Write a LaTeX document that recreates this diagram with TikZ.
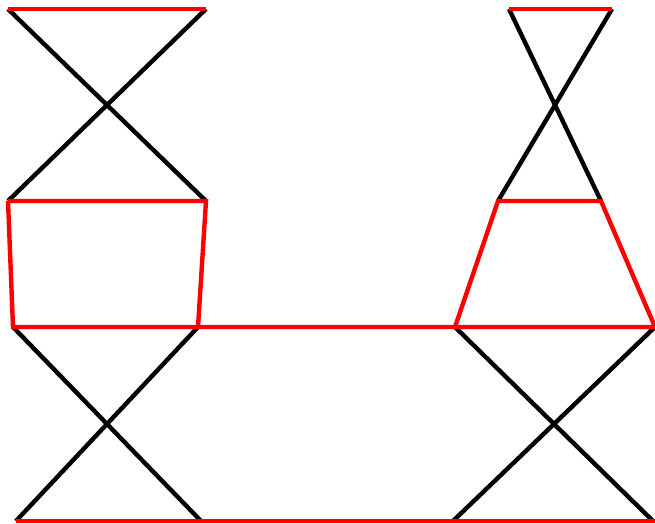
\documentclass[tikz,border=0pt]{standalone}
\tikzset{
  redbar/.style={draw=red,line width=4.4pt},
  blackbar/.style={draw=black,line width=4.4pt}
}
\begin{document}
\begin{tikzpicture}[x=1pt,y=-1pt]
  \useasboundingbox (0,0) rectangle (655,524);
  % left figure
  \coordinate (la) at (8,9);
  \coordinate (lb) at (206,9);
  \coordinate (lc) at (8,201);
  \coordinate (ld) at (206,201);
  \coordinate (le) at (13,327);
  \coordinate (lf) at (198,327);
  \coordinate (lg) at (16,521);
  \coordinate (lh) at (201,521);
  % right figure
  \coordinate (ra) at (509,9);
  \coordinate (rb) at (612,9);
  \coordinate (rc) at (498,201);
  \coordinate (rd) at (601,201);
  \coordinate (re) at (455,327);
  \coordinate (rf) at (655,327);
  \coordinate (rg) at (453,521);
  \coordinate (rh) at (653,521);
  \coordinate (rx) at (655,521);

  \draw[blackbar] (la)--(ld) (lb)--(lc);
  \draw[blackbar] (le)--(lh) (lf)--(lg);
  \draw[blackbar] (ra)--(rd) (rb)--(rc);
  \draw[blackbar] (re)--(rh) (rf)--(rg);

  \draw[redbar] (la)--(lb);
  \draw[redbar] (lc)--(ld)--(lf);
  \draw[redbar] (lc)--(le)--(rf);
  \draw[redbar] (ra)--(rb);
  \draw[redbar] (re)--(rc)--(rd)--(rf);
  \draw[redbar] (lg)--(rx);
\end{tikzpicture}
\end{document}
